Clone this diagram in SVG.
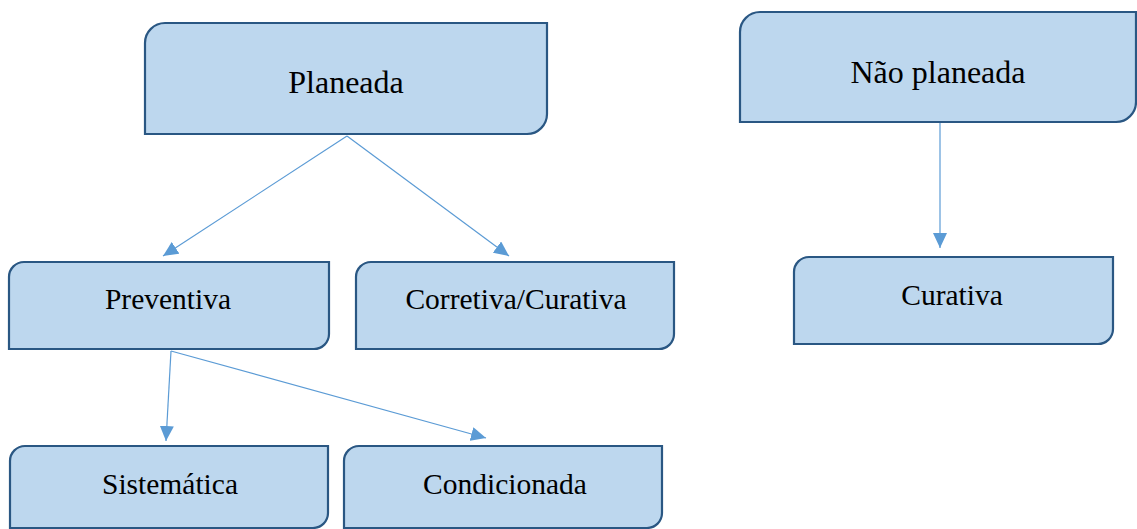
<svg xmlns="http://www.w3.org/2000/svg" width="1137" height="529" viewBox="0 0 1137 529">
<defs>
<style>
.node path{fill:#BDD7EE;stroke:#2A5783;stroke-width:2.2}
.node text{font-family:"Liberation Serif","Times New Roman",serif;font-size:29.5px;fill:#000;text-anchor:middle}
.node text.big{font-size:32px}
.conn line{stroke:#5B9BD5;stroke-width:1.2;marker-end:url(#arr)}
</style>
<marker id="arr" markerUnits="userSpaceOnUse" markerWidth="16" markerHeight="14" refX="15" refY="7" orient="auto">
<path d="M0,0 L15,7 L0,14 Z" fill="#5B9BD5"/>
</marker>
</defs>
<rect width="1137" height="529" fill="#fff"/>
<g id="connectors" class="conn">
<line x1="347" y1="136" x2="163" y2="256"/>
<line x1="347" y1="136" x2="509" y2="256"/>
<line x1="940" y1="123" x2="940" y2="248"/>
<line x1="171" y1="351" x2="166" y2="441"/>
<line x1="171" y1="351" x2="486" y2="438"/>
</g>
<g id="planeada" class="node">
<path d="M165,23 H547 V114 A20,20 0 0 1 527,134 H145 V43 A20,20 0 0 1 165,23 Z"/>
<text class="big" x="346" y="93">Planeada</text>
</g>
<g id="nao-planeada" class="node">
<path d="M760,12 H1136 V102 A20,20 0 0 1 1116,122 H740 V32 A20,20 0 0 1 760,12 Z"/>
<text class="big" x="938" y="83">Não planeada</text>
</g>
<g id="preventiva" class="node">
<path d="M24,262 H329 V334 A15,15 0 0 1 314,349 H9 V277 A15,15 0 0 1 24,262 Z"/>
<text x="168" y="309">Preventiva</text>
</g>
<g id="corretiva" class="node">
<path d="M371,262 H674 V334 A15,15 0 0 1 659,349 H356 V277 A15,15 0 0 1 371,262 Z"/>
<text x="516" y="309">Corretiva/Curativa</text>
</g>
<g id="curativa" class="node">
<path d="M809,257 H1113 V329 A15,15 0 0 1 1098,344 H794 V272 A15,15 0 0 1 809,257 Z"/>
<text x="952" y="305">Curativa</text>
</g>
<g id="sistematica" class="node">
<path d="M25,446 H328 V513 A15,15 0 0 1 313,528 H10 V461 A15,15 0 0 1 25,446 Z"/>
<text x="170" y="494">Sistemática</text>
</g>
<g id="condicionada" class="node">
<path d="M359,446 H662 V513 A15,15 0 0 1 647,528 H344 V461 A15,15 0 0 1 359,446 Z"/>
<text x="505" y="494">Condicionada</text>
</g>
</svg>
